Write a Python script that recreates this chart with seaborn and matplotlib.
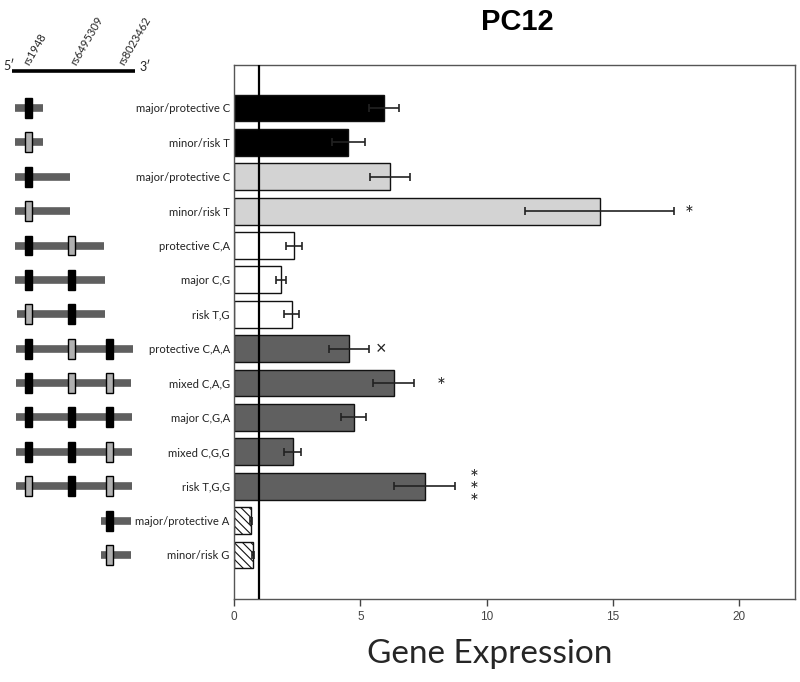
import numpy as np
import pandas as pd
import matplotlib
matplotlib.use("Agg")
import matplotlib.pyplot as plt
import seaborn as sns

# ---- data ----
labels = ["major/protective C", "minor/risk T", "major/protective C", "minor/risk T",
          "protective C,A", "major C,G", "risk T,G",
          "protective C,A,A", "mixed C,A,G", "major C,G,A", "mixed C,G,G", "risk T,G,G",
          "major/protective A", "minor/risk G"]
expression = [5.93, 4.53, 6.17, 14.47, 2.37, 1.86, 2.28, 4.55, 6.32, 4.74, 2.32, 7.55, 0.66, 0.74]
sem = [0.6, 0.65, 0.8, 2.95, 0.33, 0.2, 0.3, 0.78, 0.8, 0.5, 0.33, 1.2, 0.04, 0.04]
bar_colors = ["#000000", "#000000", "#d3d3d3", "#d3d3d3", "#ffffff", "#ffffff", "#ffffff",
              "#606060", "#606060", "#606060", "#606060", "#606060", "#ffffff", "#ffffff"]
bar_hatch = ["", "", "", "", "", "", "", "", "", "", "", "", "\\\\\\\\", "\\\\\\\\"]

# significance marks: (row, x, text)
sig_rows = [3, 7, 8, 11]
sig_x = [18.0, 5.8, 8.2, 9.5]
sig_text = ["*", "\u00d7", "*", "*\n*\n*"]

# schematic: SNP names and positions along the gene (schematic units)
snp_names = ["rs1948", "rs6495309", "rs8023462"]
snp_pos = [28, 71, 109]
snp_label_x = [31, 78, 126]
# allele per row for each SNP: 1 = major (black), 0 = minor (grey), None = absent
haplotypes = [[1, None, None], [0, None, None], [1, None, None], [0, None, None],
              [1, 0, None], [1, 1, None], [0, 1, None],
              [1, 0, 1], [1, 0, 0], [1, 1, 1], [1, 1, 0], [0, 1, 0],
              [None, None, 1], [None, None, 0]]
gene_start = [15, 15, 15, 15, 15, 15, 17, 16, 16, 16, 16, 16, 101, 101]
gene_end = [43, 43, 70, 70, 104, 105, 105, 133, 131, 132, 132, 132, 131, 131]

sns.set_theme(style="white")
plt.rcParams["font.family"] = ["Liberation Sans", "DejaVu Sans"]
plt.rcParams["hatch.linewidth"] = 0.8
calibri_like = ["Lato", "DejaVu Sans"]

fig = plt.figure(figsize=(8, 6.82), dpi=100)
ax = fig.add_axes([0.2925, 0.1217, 0.70125, 0.7830])

ids = [f"r{i}" for i in range(len(labels))]
df = pd.DataFrame({"id": ids, "expr": expression})
sns.barplot(data=df, x="expr", y="id", hue="id", order=ids, hue_order=ids,
            palette=dict(zip(ids, bar_colors)), legend=False, errorbar=None,
            width=0.78, edgecolor="#111111", linewidth=1, ax=ax)
for cont, h in zip(ax.containers, bar_hatch):
    for p in cont:
        p.set_hatch(h)

ypos = np.arange(len(labels))
ax.errorbar(expression, ypos, xerr=sem, fmt="none", ecolor="#222222",
            elinewidth=1.2, capsize=3, capthick=1.2, zorder=5)
ax.axvline(1, color="black", lw=1.6, zorder=6)

for r, x, t in zip(sig_rows, sig_x, sig_text):
    if t == "\u00d7":
        ax.text(x, r + 0.02, t, ha="center", va="center", fontsize=13, color="#222222")
    elif "\n" in t:
        ax.text(x, r + 0.15, t, ha="center", va="center", fontsize=15,
                linespacing=0.5, color="#222222", family=calibri_like)
    else:
        ax.text(x, r + 0.12, t, ha="center", va="center", fontsize=15,
                color="#222222", family=calibri_like)

ax.set_xlim(0, 22.2)
ax.set_ylim(len(labels) - 1 + 1.28, -1.25)
ax.set_xticks([0, 5, 10, 15, 20])
ax.set_yticks(ypos)
ax.set_yticklabels(labels, fontsize=8.1, family=calibri_like, color="#222222")
ax.tick_params(axis="y", length=0, pad=3)
ax.tick_params(axis="x", length=5, width=1, color="#444444", labelsize=8.5,
               labelcolor="#444444", bottom=True, direction="out")
ax.set_xlabel("Gene Expression", fontsize=24, family=calibri_like, labelpad=12, x=0.455)
ax.set_ylabel("")
for s in ax.spines.values():
    s.set_color("#555555")
    s.set_linewidth(1)
ax.set_title("PC12", fontsize=21, fontweight="bold", pad=25, x=0.505, color="black")

# ---- schematic panel on the left ----
sx = fig.add_axes([0.0, 0.1217, 0.2925, 0.7830])
sx.set_xlim(0, 234)
sx.set_ylim(ax.get_ylim())
sx.axis("off")

line_y = -1.08
sx.plot([12, 135], [line_y, line_y], color="black", lw=2.6, solid_capstyle="butt", clip_on=False)
sx.text(3, line_y + 0.02, "5\u2032", ha="left", va="bottom", fontsize=9, family=calibri_like)
sx.text(139, line_y + 0.05, "3\u2032", ha="left", va="bottom", fontsize=9, family=calibri_like)
for name, lx in zip(snp_names, snp_label_x):
    sx.text(lx, line_y - 0.12, name, rotation=60, ha="left", va="bottom",
            rotation_mode="anchor", fontsize=8, family=calibri_like, clip_on=False)

for row, (alleles, g0, g1) in enumerate(zip(haplotypes, gene_start, gene_end)):
    sx.plot([g0, g1], [row, row], color="#5f5f5f", lw=5.5, solid_capstyle="butt", zorder=1)
    for px, a in zip(snp_pos, alleles):
        if a is None:
            continue
        face = "#000000" if a == 1 else "#b0b0b0"
        rect = plt.Rectangle((px - 3.5, row - 0.29), 7, 0.58, facecolor=face,
                             edgecolor="black", lw=1, zorder=2)
        sx.add_patch(rect)

fig.savefig("out.png", dpi=100)
